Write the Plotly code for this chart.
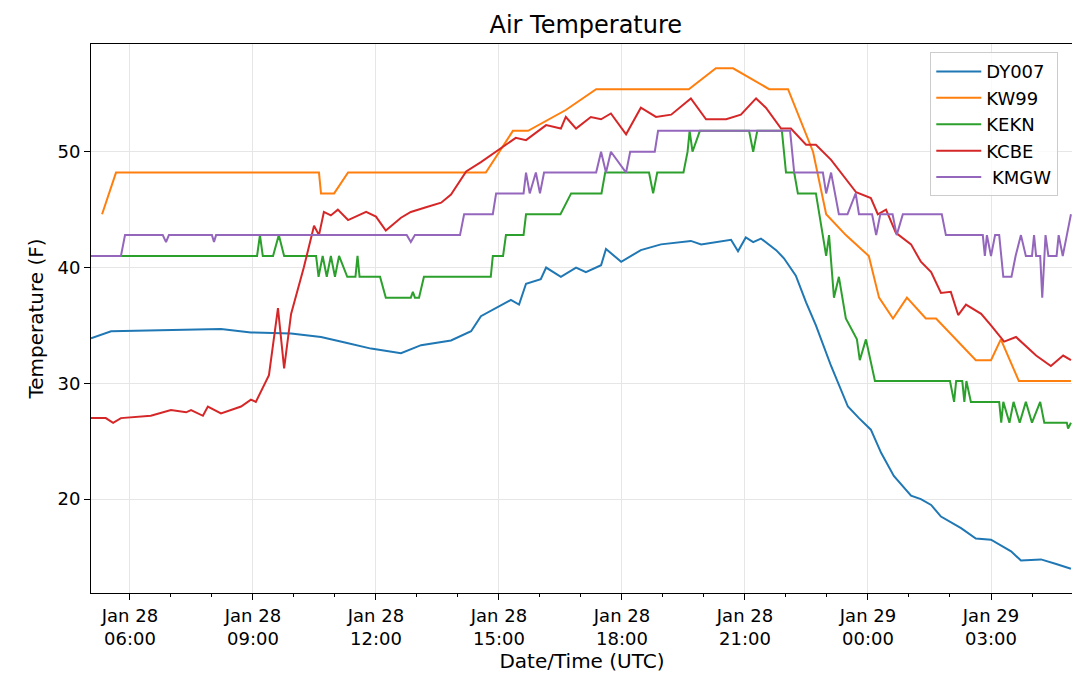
import pandas as pd
import plotly.graph_objects as go

# hours since 2019-01-28 00:00 UTC, temperature (F)
dy_h = [5.05,5.54,8.22,8.95,9.93,10.66,11.27,11.88,12.61,13.10,13.83,14.32,14.56,14.93,15.29,15.49,15.66,16.02,16.15,16.51,16.88,17.12,17.49,17.61,17.98,18.46,18.95,19.68,19.93,20.66,20.83,21.02,21.20,21.39,21.76,21.95,22.24,22.49,22.73,23.10,23.51,23.78,24.07,24.32,24.63,25.05,25.29,25.54,25.78,26.27,26.63,27.0,27.24,27.49,27.73,28.22,28.59,28.95]
dy_v = [33.9,34.5,34.7,34.4,34.3,34.0,33.5,33.0,32.6,33.3,33.7,34.5,35.8,36.5,37.2,36.8,38.6,39.0,40.0,39.2,40.0,39.6,40.2,41.6,40.5,41.5,42.0,42.3,42.0,42.4,41.4,42.6,42.2,42.5,41.5,40.8,39.3,37.0,35.0,31.5,28.0,27.0,26.0,24.0,22.0,20.3,20.0,19.5,18.5,17.5,16.6,16.5,16.0,15.5,14.7,14.8,14.4,14.0]

kw_h = [5.32,5.66,10.61,10.66,10.98,11.32,14.68,15.34,15.71,16.63,17.37,19.63,20.29,20.71,21.59,22.05,22.66,22.98,23.46,24.02,24.27,24.61,24.95,25.41,25.66,26.63,27.0,27.24,27.68,28.95]
kw_v = [44.6,48.2,48.2,46.4,46.4,48.2,48.2,51.8,51.8,53.6,55.4,55.4,57.2,57.2,55.4,55.4,50.0,44.6,42.8,41.0,37.4,35.6,37.4,35.6,35.6,32.0,32.0,33.8,30.2,30.2]

ek_h = [5.05,9.10,9.17,9.24,9.49,9.63,9.76,10.54,10.6,10.7,10.8,10.9,11.0,11.1,11.3,11.5,11.55,11.6,12.1,12.24,12.85,12.9,12.95,13.05,13.17,14.80,14.85,15.10,15.17,15.60,15.66,16.5,16.76,17.5,17.59,18.66,18.76,18.86,19.5,19.6,19.65,19.72,19.9,21.1,21.2,21.3,21.9,22.0,22.2,22.29,22.73,22.98,23.05,23.17,23.29,23.46,23.73,23.80,23.95,24.17,25.7,26.0,26.1,26.15,26.3,26.35,26.4,26.51,27.2,27.25,27.3,27.45,27.55,27.7,27.85,28.0,28.2,28.3,28.85,28.88,28.95]
ek_v = [41,41,42.8,41,41,42.8,41,41,39.2,41,39.2,41,39.2,41,39.2,39.2,41,39.2,39.2,37.4,37.4,37.9,37.4,37.4,39.2,39.2,41,41,42.8,42.8,44.6,44.6,46.4,46.4,48.2,48.2,46.4,48.2,48.2,50,51.8,50,51.8,51.8,50,51.8,51.8,48.2,48.2,46.4,46.4,41,42.8,37.4,39.2,35.6,33.8,32,33.8,30.2,30.2,30.2,28.4,30.2,30.2,28.4,30.2,28.4,28.4,26.6,28.4,26.6,28.4,26.6,28.4,26.6,28.4,26.6,26.6,26.1,26.6]

cb_h = [5.05,5.41,5.59,5.78,6.51,7.0,7.37,7.49,7.78,7.90,8.22,8.71,8.95,9.07,9.39,9.61,9.76,9.93,10.24,10.49,10.61,10.73,10.90,11.07,11.32,11.76,12.0,12.24,12.61,12.85,13.22,13.59,13.83,14.20,14.56,14.93,15.41,15.66,16.15,16.51,16.63,16.88,17.24,17.49,17.73,18.10,18.46,18.83,19.20,19.68,20.05,20.54,20.90,21.27,21.51,21.88,22.12,22.49,22.73,23.10,23.34,23.71,24.07,24.24,24.44,24.68,25.05,25.29,25.54,25.78,26.02,26.20,26.39,26.76,27.0,27.32,27.61,28.10,28.46,28.76,28.95]
cb_v = [27,27,26.6,27,27.2,27.7,27.5,27.7,27.2,28.0,27.4,28.0,28.6,28.4,30.7,36.5,31.3,36.0,40,43.6,42.8,44.8,44.5,45,44.1,44.8,44.4,43.2,44.3,44.8,45.2,45.6,46.3,48.3,49.1,50,51.2,51.0,52.3,52.0,53.0,52.0,53.0,52.8,53.3,51.5,53.8,53.0,53.2,54.6,52.8,52.8,53.2,54.6,53.8,52.0,52.0,50.6,50.6,49.3,48.2,46.5,46.0,44.6,45.0,43.0,42,40.5,39.6,37.8,37.9,35.9,36.8,36.0,35.0,33.6,34.0,32.4,31.5,32.4,32.0]

mg_h = [5.05,5.78,5.88,6.8,6.88,6.95,8.0,8.05,8.1,12.75,12.85,12.95,14.05,14.15,14.85,14.93,15.6,15.66,15.75,15.9,16.0,16.1,17.37,17.49,17.61,17.73,18.1,18.2,18.8,18.88,22.1,22.2,22.9,22.98,23.1,23.29,23.5,23.7,23.78,24.1,24.2,24.3,24.6,24.7,24.85,25.8,25.9,26.8,26.85,26.9,27.0,27.1,27.2,27.3,27.5,27.6,27.73,27.85,28.0,28.05,28.1,28.2,28.25,28.33,28.4,28.6,28.65,28.75,28.85,28.95]
mg_v = [41,41,42.8,42.8,42.2,42.8,42.8,42.2,42.8,42.8,42.2,42.8,42.8,44.6,44.6,46.4,46.4,48.2,46.4,48.2,46.4,48.2,48.2,50,48.2,50,48.2,50,50,51.8,51.8,48.2,48.2,46.4,48.2,44.6,44.6,46.4,44.6,44.6,42.8,44.6,44.6,42.8,44.6,44.6,42.8,42.8,41,42.8,41,42.8,42.8,39.2,39.2,41,42.8,41,41,42.8,41,41,37.4,42.8,41,41,42.8,41,42.8,44.6]

names = ["DY007", "KW99", "KEKN", "KCBE", " KMGW"]
colors = ["#1f77b4", "#ff7f0e", "#2ca02c", "#d62728", "#9467bd"]
series = [(dy_h, dy_v), (kw_h, kw_v), (ek_h, ek_v), (cb_h, cb_v), (mg_h, mg_v)]

tick_hours = [6, 9, 12, 15, 18, 21, 24, 27]
tick_text = ["Jan 28<br>06:00", "Jan 28<br>09:00", "Jan 28<br>12:00", "Jan 28<br>15:00",
             "Jan 28<br>18:00", "Jan 28<br>21:00", "Jan 29<br>00:00", "Jan 29<br>03:00"]

base = pd.Timestamp("2019-01-28 00:00")
def T(h):
    return [base + pd.to_timedelta(x, unit="h") for x in h]

fig = go.Figure()
for (h, v), n, c in zip(series, names, colors):
    fig.add_trace(go.Scatter(x=T(h), y=v, name=n, mode="lines", line=dict(color=c, width=2)))

fig.update_layout(
    width=1080, height=681,
    margin=dict(l=83, r=15, t=36, b=96, autoexpand=False),
    plot_bgcolor="white", paper_bgcolor="white",
    font=dict(family="DejaVu Sans", size=18, color="black"),
    title=dict(text="Air Temperature", x=0.535, xanchor="center", y=0.975, yanchor="middle", font=dict(size=24), automargin=False),
    legend=dict(x=0.985, y=0.985, xanchor="right", yanchor="top", bordercolor="#cccccc", borderwidth=1,
                bgcolor="rgba(255,255,255,0.8)", font=dict(size=18), itemwidth=45, tracegroupgap=2),
    showlegend=True,
)
fig.update_xaxes(
    range=T([5.05, 29.0]), tickvals=T(tick_hours), ticktext=tick_text, automargin=False,
    showgrid=True, gridcolor="#e6e6e6", showline=True, linecolor="black", mirror=True,
    ticks="outside", ticklen=6, tickcolor="black",
    minor=dict(dtick=3600000, ticks="outside", ticklen=3, tickcolor="black", showgrid=False),
    title=dict(text="Date/Time (UTC)", font=dict(size=20), standoff=4),
)
fig.update_yaxes(
    range=[11.9, 59.3], tickvals=[20, 30, 40, 50], automargin=False,
    showgrid=True, gridcolor="#e6e6e6", showline=True, linecolor="black", mirror=True,
    ticks="outside", ticklen=6, tickcolor="black", zeroline=False,
    title=dict(text="Temperature (F)", font=dict(size=20), standoff=8),
)
fig.write_html("out.html")
